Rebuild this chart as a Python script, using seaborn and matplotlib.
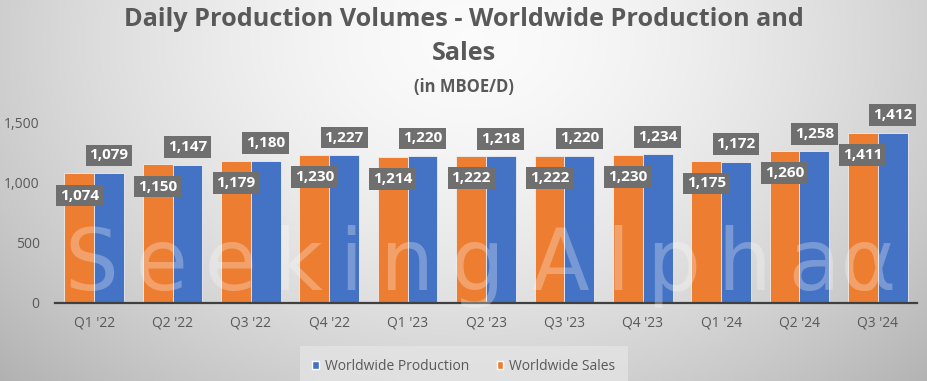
import numpy as np
import pandas as pd
import matplotlib
matplotlib.use("Agg")
import matplotlib.pyplot as plt
import seaborn as sns
from matplotlib.patches import Patch

# ---- data ----
quarters = ["Q1 '22", "Q2 '22", "Q3 '22", "Q4 '22", "Q1 '23", "Q2 '23",
            "Q3 '23", "Q4 '23", "Q1 '24", "Q2 '24", "Q3 '24"]
sales = [1074, 1150, 1179, 1230, 1214, 1222, 1222, 1230, 1175, 1260, 1411]
production = [1079, 1147, 1180, 1227, 1220, 1218, 1220, 1234, 1172, 1258, 1412]
yticks = [0, 500, 1000, 1500]
series_names = ["Worldwide Sales", "Worldwide Production"]
legend_order = ["Worldwide Production", "Worldwide Sales"]

values = {"Worldwide Sales": sales, "Worldwide Production": production}
colors = {"Worldwide Sales": "#ED7D31", "Worldwide Production": "#4472C4"}

df = pd.DataFrame({
    "Quarter": quarters * 2,
    "Series": ["Worldwide Sales"] * len(quarters) + ["Worldwide Production"] * len(quarters),
    "Value": sales + production,
})

sns.set_theme(style="white")
plt.rcParams["font.family"] = ["Open Sans", "DejaVu Sans"]

W, H = 928, 381
fig = plt.figure(figsize=(W / 100, H / 100), dpi=100)

# ---- gradient background ----
bg = fig.add_axes([0, 0, 1, 1])
bg.set_zorder(-10)
yy, xx = np.mgrid[0:H, 0:W]
r = np.sqrt(((xx - 470) / 560.0) ** 2 + ((yy - 40) / 430.0) ** 2)
g = 0.985 - 0.23 * np.clip(r, 0, 1.4) ** 1.6
bg.imshow(np.dstack([g, g, g]), aspect="auto", extent=[0, 1, 0, 1], origin="upper")
bg.axis("off")

# ---- main axes ----
ax = fig.add_axes([55 / W, 1 - 303 / H, (917 - 55) / W, (303 - 110) / H])
ax.patch.set_alpha(0)
sns.barplot(data=df, x="Quarter", y="Value", hue="Series", hue_order=series_names,
            palette=colors, width=0.76, ax=ax, edgecolor="#eeeeee", linewidth=0.6,
            legend=False, saturation=1)
ax.set_ylim(0, 1600)
ax.set_xlim(-0.5, len(quarters) - 0.5)
ax.set_xlabel("")
ax.set_ylabel("")
ax.set_yticks(yticks)
ax.set_yticklabels([f"{v:,}" for v in yticks])
ax.tick_params(axis="both", length=0, labelsize=10, labelcolor="#595959")
ax.tick_params(axis="y", pad=11)
ax.tick_params(axis="x", pad=9)
for s in ["top", "right", "left"]:
    ax.spines[s].set_visible(False)
ax.spines["bottom"].set_color("#404040")
ax.spines["bottom"].set_linewidth(1.6)
ax.grid(False)

# ---- watermark ----
wm = "\u2009".join("Seeking") + " " + "\u2009".join("Alpha") + "\u03b1"
fig.text(65 / W, 1 - 290 / H, wm, fontsize=61, ha="left", va="baseline",
         color="white", alpha=0.28, family="DejaVu Sans", zorder=3)

# ---- data labels ----
for cont, name in zip(ax.containers, series_names):
    off = -16 if name == "Worldwide Sales" else 12.5
    for bar, v in zip(cont, values[name]):
        x = bar.get_x() + bar.get_width() / 2
        ax.annotate(f"{v:,}", (x, bar.get_height()), xytext=(0, off),
                    textcoords="offset points", ha="center", va="center",
                    color="white", fontweight="bold", fontsize=11, zorder=6,
                    bbox=dict(boxstyle="square,pad=0.25", fc="#6f6f6f", ec="none"))

# ---- titles ----
fig.text(0.5, 1 - 20 / H, "Daily Production Volumes - Worldwide Production and",
         ha="center", va="center", fontsize=18.2, fontweight="bold", color="#595959")
fig.text(0.5, 1 - 54 / H, "Sales", ha="center", va="center", fontsize=18.2,
         fontweight="bold", color="#595959")
fig.text(0.5, 1 - 87 / H, "(in MBOE/D)", ha="center", va="center", fontsize=12,
         fontweight="bold", color="#595959")

# ---- legend ----
handles = [Patch(facecolor=colors[n], label=n) for n in legend_order]
leg = fig.legend(handles=handles, loc="center", bbox_to_anchor=(0.5, 1 - 366 / H),
                 ncol=2, frameon=True, facecolor="#e6e6e6", edgecolor="none",
                 fancybox=False, fontsize=10, handlelength=0.45, handleheight=0.5,
                 handletextpad=0.45, columnspacing=2.0, labelcolor="#595959",
                 borderpad=0.9, framealpha=0.7)

fig.savefig("out.png", dpi=100)
